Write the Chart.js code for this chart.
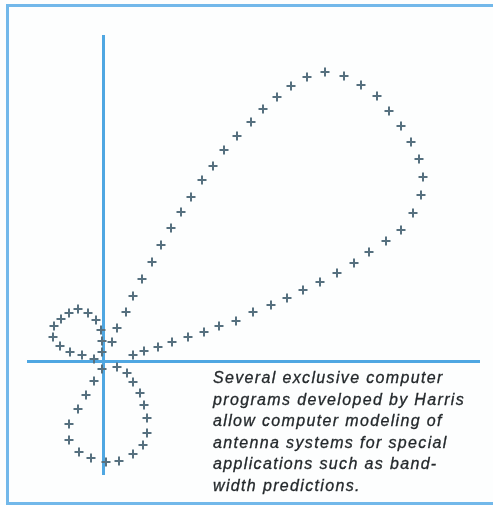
<!DOCTYPE html>
<html>
<head>
<meta charset="utf-8">
<script src="https://cdn.jsdelivr.net/npm/chart.js@4/dist/chart.umd.min.js"></script>
<style>
  html, body { margin: 0; padding: 0; background: #fff; }
  #wrap { position: relative; width: 493px; height: 505px; overflow: hidden; background: #fdfefe; }
  #frame {
    position: absolute; left: 6px; top: 4px; width: 500px; height: 495px;
    border-left: 3px solid #72b8ea; border-top: 3px solid #72b8ea; border-bottom: 3px solid #72b8ea;
  }
  #pattern { position: absolute; left: 0; top: 0; }
  #caption {
    position: absolute; left: 213px; top: 367px;
    font-family: "Liberation Sans", Arial, sans-serif; font-style: italic;
    font-size: 16px; line-height: 21.6px; letter-spacing: 1.35px; color: #23282b;
    -webkit-text-stroke: 0.3px #23282b;
    white-space: pre;
  }
</style>
</head>
<body>
<div id="wrap">
  <div id="frame"></div>
  <canvas id="pattern" width="493" height="505"></canvas>
  <div id="caption">Several exclusive computer
programs developed by Harris
allow computer modeling of
antenna systems for special
applications such as band-
width predictions.</div>
</div>
<script>
// main lobe, traced from the origin up and round
const mainLobeX = [0.8, 1.3, 2.2, 2.9, 3.8, 4.8, 5.7, 6.7, 7.7, 8.7, 9.8, 10.9, 12.0, 13.3, 14.7, 15.9, 17.3, 18.7, 20.3, 22.1, 24.0, 25.7, 27.3, 28.5, 29.7, 30.7, 31.5, 31.9, 31.7, 30.9, 29.7, 28.2, 26.5, 25.0, 23.3, 21.6, 19.9, 18.3, 16.7, 14.9, 13.2, 11.5, 10.0, 8.4, 6.8, 5.4, 4.0, 2.9];
const mainLobeY = [1.9, 3.3, 4.9, 6.5, 8.2, 9.9, 11.6, 13.3, 14.9, 16.4, 18.1, 19.5, 21.1, 22.5, 23.9, 25.2, 26.4, 27.5, 28.4, 28.9, 28.5, 27.6, 26.5, 25.0, 23.5, 21.9, 20.2, 18.4, 16.6, 14.8, 13.1, 12.0, 10.9, 9.8, 8.8, 7.9, 7.1, 6.3, 5.6, 4.9, 4.0, 3.5, 2.9, 2.4, 1.9, 1.4, 1.0, 0.6];

// small back lobe (upper left)
const backLobeX = [-0.2, -0.2, -0.3, -0.8, -1.6, -2.6, -3.5, -4.3, -5.0, -5.1, -4.4, -3.4, -2.2, -1.0];
const backLobeY = [0.9, 2.0, 3.1, 4.1, 4.8, 5.2, 4.8, 4.2, 3.5, 2.4, 1.5, 0.9, 0.6, 0.2];

// lower side lobe
const sideLobeX = [-0.2, -1.0, -1.8, -2.6, -3.5, -3.5, -2.5, -1.3, 0.2, 1.5, 2.9, 3.9, 4.3, 4.3, 4.0, 3.6, 2.9, 2.3, 1.3];
const sideLobeY = [-0.8, -2.0, -3.4, -4.8, -6.3, -7.9, -9.1, -9.7, -10.1, -10.0, -9.3, -8.4, -7.2, -5.7, -4.4, -3.2, -2.1, -1.2, -0.6];

const axisColor = '#4fa7e2';
const markColor = '#56707f';

function toPoints(xs, ys) {
  return xs.map((x, i) => ({ x: x, y: ys[i] }));
}

function lobe(label, xs, ys) {
  return {
    label: label,
    data: toPoints(xs, ys),
    pointStyle: 'cross',
    pointRadius: 4.5,
    pointHoverRadius: 4.5,
    pointBorderWidth: 2,
    borderColor: markColor,
    backgroundColor: markColor,
    showLine: false
  };
}

// only the zero line of each scale is drawn, as the cross-hair axes
function zeroOnly(scale) { scale.ticks = [{ value: 0 }]; }

const axisScale = (min, max) => ({
  type: 'linear',
  min: min,
  max: max,
  afterBuildTicks: zeroOnly,
  ticks: { display: false },
  border: { display: false },
  grid: { color: axisColor, lineWidth: 3, drawTicks: false }
});

new Chart(document.getElementById('pattern'), {
  type: 'scatter',
  data: {
    datasets: [
      lobe('Main lobe', mainLobeX, mainLobeY),
      lobe('Back lobe', backLobeX, backLobeY),
      lobe('Side lobe', sideLobeX, sideLobeY)
    ]
  },
  options: {
    responsive: false,
    animation: false,
    layout: { padding: { left: 27, top: 35, right: 13, bottom: 30 } },
    plugins: { legend: { display: false }, tooltip: { enabled: false } },
    scales: {
      x: axisScale(-7.7, 37.6),
      y: axisScale(-11.4, 32.6)
    }
  }
});
</script>
</body>
</html>
